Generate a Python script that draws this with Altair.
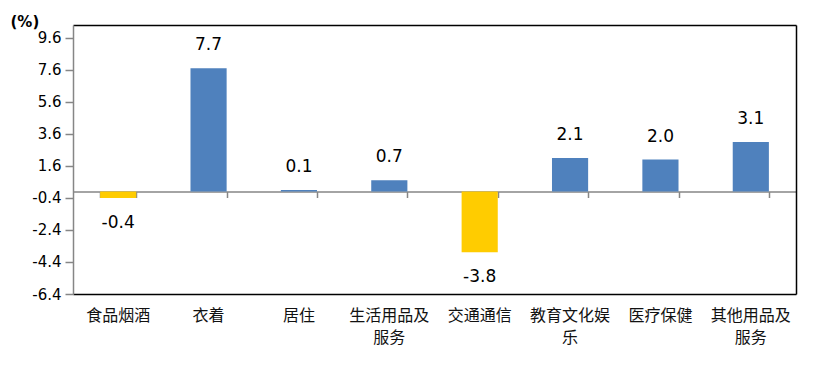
import altair as alt
import pandas as pd

categories = ["食品烟酒", "衣着", "居住", "生活用品及服务", "交通通信", "教育文化娱乐", "医疗保健", "其他用品及服务"]
values = [-0.4, 7.7, 0.1, 0.7, -3.8, 2.1, 2.0, 3.1]
y_ticks = [-6.4, -4.4, -2.4, -0.4, 1.6, 3.6, 5.6, 7.6, 9.6]
y_domain = [-6.4, 10.4]

df = pd.DataFrame({"cat": categories, "value": values})

W, H = 723, 269
zero_offset = -(0 - y_domain[0]) / (y_domain[1] - y_domain[0]) * H

GRAY = "#868686"
NUMFONT = "DejaVu Sans"
CJK = "Noto Sans CJK SC"

xscale = alt.Scale(paddingInner=0.6, paddingOuter=0.3)

yscale = alt.Scale(domain=y_domain, nice=False, zero=False)

base = alt.Chart(df).transform_calculate(
    lbl="replace(format(datum.value, '.1f'), '\u2212', '-')"
)

bars = base.mark_bar().encode(
    x=alt.X("cat:N", sort=categories, scale=xscale, title=None,
            axis=alt.Axis(orient="bottom", domain=True, domainColor="black", domainWidth=1.5,
                          ticks=False, labelAngle=0, labelFont=CJK, labelFontSize=16,
                          labelColor="#111", labelPadding=13, labelLineHeight=22,
                          labelLimit=200,
                          labelExpr="length(datum.label) > 5 ? [substring(datum.label, 0, 5), substring(datum.label, 5)] : datum.label")),
    y=alt.Y("value:Q", scale=yscale,
            axis=alt.Axis(orient="left", values=y_ticks, grid=False,
                          labelExpr="replace(format(datum.value, '.1f'), '\u2212', '-')",
                          domainColor=GRAY, domainWidth=1.5, tickColor=GRAY, tickWidth=1.5,
                          tickSize=8, labelPadding=4, labelFont=NUMFONT, labelFontSize=15,
                          labelColor="black",
                          title="(%)", titleAngle=0, titleAlign="left", titleBaseline="middle",
                          titleX=-63, titleY=-4, titleFont=NUMFONT, titleFontSize=15,
                          titleFontWeight="bold", titleColor="black")),
    color=alt.condition("datum.value < 0", alt.value("#FFCC00"), alt.value("#4F81BD")),
)

pos_text = base.transform_filter("datum.value >= 0").mark_text(
    dy=-23, baseline="middle", font=NUMFONT, fontSize=17, color="black"
).encode(
    x=alt.X("cat:N", sort=categories, scale=xscale, title=None,
            axis=alt.Axis(orient="bottom", offset=zero_offset, labels=False, domain=True,
                          domainColor=GRAY, domainWidth=1.5, ticks=True, tickColor=GRAY,
                          tickWidth=1.5, tickSize=6, tickBand="extent")),
    y=alt.Y("value:Q", scale=yscale, axis=None),
    text="lbl:N",
)

neg_text = base.transform_filter("datum.value < 0").mark_text(
    dy=25, baseline="middle", font=NUMFONT, fontSize=17, color="black"
).encode(
    x=alt.X("cat:N", sort=categories, scale=xscale, title=None,
            axis=alt.Axis(orient="top", labels=False, ticks=False, domain=True,
                          domainColor="black", domainWidth=1.5)),
    y=alt.Y("value:Q", scale=yscale, title=None,
            axis=alt.Axis(orient="right", labels=False, ticks=False, grid=False, domain=True,
                          domainColor="black", domainWidth=1.5)),
    text="lbl:N",
)

chart = alt.layer(bars, pos_text, neg_text).resolve_axis(
    x="independent", y="independent"
).properties(
    width=W, height=H, padding={"left": 2, "top": 6, "right": 5, "bottom": 5}
).configure_view(stroke=None)

chart.save("out.html", embed_options={"renderer": "svg", "actions": False})
